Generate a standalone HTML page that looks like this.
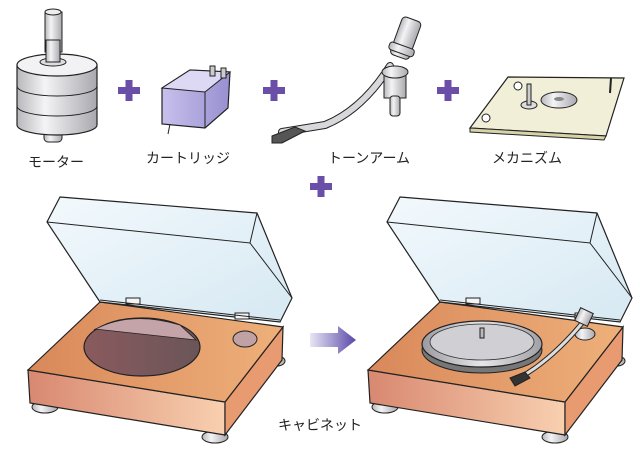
<!DOCTYPE html>
<html><head><meta charset="utf-8"><style>
html,body{margin:0;padding:0;background:#fff;}
svg{display:block}
text{font-family:"Liberation Sans","Noto Sans CJK JP",sans-serif;font-size:14px;fill:#222}
</style></head><body>
<svg width="640" height="456" viewBox="0 0 640 456" xmlns="http://www.w3.org/2000/svg">
<defs>
<linearGradient id="metal" x1="0" x2="1"><stop offset="0" stop-color="#b8b8bc"/><stop offset=".35" stop-color="#f4f4f6"/><stop offset="1" stop-color="#a8a8ae"/></linearGradient>
<linearGradient id="front" x1="0" x2="1"><stop offset="0" stop-color="#d88870"/><stop offset="1" stop-color="#f8d0b0"/></linearGradient>
<linearGradient id="topw" x1="0" x2="1"><stop offset="0" stop-color="#d9885a"/><stop offset="1" stop-color="#eeb07a"/></linearGradient>
<linearGradient id="hole" x1="0" x2="1"><stop offset="0" stop-color="#8a5a5e"/><stop offset="1" stop-color="#6a5558"/></linearGradient>
<linearGradient id="lid" x1="0" x2="1" y1="0" y2="1"><stop offset="0" stop-color="#eef7fc"/><stop offset="1" stop-color="#c9e1ee"/></linearGradient>
<linearGradient id="arrow" x1="0" x2="1"><stop offset="0" stop-color="#e8e6f4"/><stop offset="1" stop-color="#5a48a8"/></linearGradient>
<linearGradient id="cart" x1="0" x2="1"><stop offset="0" stop-color="#c8c0ec"/><stop offset="1" stop-color="#9890d0"/></linearGradient>
<linearGradient id="plat" x1="0" x2="1"><stop offset="0" stop-color="#9a9aa0"/><stop offset=".5" stop-color="#e6e6ea"/><stop offset="1" stop-color="#a0a0a6"/></linearGradient>
<g id="cab">
 <ellipse cx="45" cy="407" rx="13" ry="6" fill="url(#metal)" stroke="#222"/>
 <ellipse cx="215" cy="437" rx="13" ry="6" fill="url(#metal)" stroke="#222"/>
 <ellipse cx="277" cy="361" rx="8" ry="5" fill="url(#metal)" stroke="#222"/>
 <polygon points="28,370 225,402 225,435 30,403" fill="url(#front)" stroke="#222" stroke-width="1.2"/>
 <polygon points="225,402 283,327 282,360 225,435" fill="#e89a70" stroke="#222" stroke-width="1.2"/>
 <polygon points="28,370 100,302 283,327 225,402" fill="url(#topw)" stroke="#222" stroke-width="1.2"/>
 <polygon points="60,197 257,213 292,298 280,322 100,302 47,222" fill="url(#lid)" fill-opacity=".75" stroke="#222" stroke-width="1.2"/>
 <rect x="126" y="298" width="14" height="6" fill="#f4f4f4" stroke="#222"/>
 <rect x="235" y="313" width="14" height="6" fill="#f4f4f4" stroke="#222"/>
 <polyline points="47,222 250,243 257,213" fill="none" stroke="#222"/>
 <polyline points="250,243 292,298" fill="none" stroke="#222"/>
 <line x1="100" y1="300" x2="280" y2="320" stroke="#222"/>
</g>
</defs>

<!-- motor -->
<rect x="45" y="12" width="17" height="40" fill="url(#metal)" stroke="#222"/>
<ellipse cx="53" cy="12" rx="8" ry="3" fill="#eee" stroke="#222"/>
<rect x="44" y="128" width="18" height="14" rx="4" fill="url(#metal)" stroke="#222"/>
<path d="M17,65 L17,125 A40,10 0 0 0 97,125 L97,65" fill="url(#metal)" stroke="#222" stroke-width="1.2"/>
<path d="M17,86 A40,10 0 0 0 97,86 M17,106 A40,10 0 0 0 97,106" fill="none" stroke="#222"/>
<ellipse cx="57" cy="65" rx="40" ry="11" fill="#f2f2f4" stroke="#222" stroke-width="1.2"/>
<ellipse cx="53" cy="62" rx="13" ry="4" fill="#ddd" stroke="#222"/>
<rect x="46" y="40" width="14" height="22" fill="url(#metal)" stroke="#222"/>
<text x="28" y="167">モーター</text>

<!-- plus signs -->
<g fill="#6a4ea8">
<rect x="118" y="87" width="22" height="7"/><rect x="125.5" y="80" width="7" height="21"/>
<rect x="263" y="87" width="22" height="7"/><rect x="270.5" y="80" width="7" height="21"/>
<rect x="437" y="87" width="22" height="7"/><rect x="444.5" y="80" width="7" height="21"/>
<rect x="310" y="183" width="22" height="7"/><rect x="317.5" y="176" width="7" height="21"/>
</g>

<!-- cartridge -->
<polygon points="162,88 190,70 230,72 228,108 205,128 162,124" fill="url(#cart)" stroke="#222" stroke-width="1.2"/>
<polygon points="162,88 190,70 230,72 205,92" fill="#ddd8f4" stroke="#222"/>
<line x1="205" y1="92" x2="205" y2="128" stroke="#222"/>
<rect x="210" y="66" width="5" height="10" fill="#ccc" stroke="#222"/>
<rect x="221" y="68" width="5" height="10" fill="#ccc" stroke="#222"/>
<line x1="170" y1="124" x2="168" y2="134" stroke="#222"/>
<text x="146" y="163">カートリッジ</text>

<!-- tonearm -->
<path d="M390,66 Q362,110 325,125 L282,132" fill="none" stroke="#222" stroke-width="8" stroke-linecap="round"/>
<path d="M390,66 Q362,110 325,125 L282,132" fill="none" stroke="#d8d8dc" stroke-width="6" stroke-linecap="round"/>
<rect x="384" y="72" width="22" height="26" fill="url(#metal)" stroke="#222"/>
<rect x="390" y="96" width="10" height="20" rx="3" fill="url(#metal)" stroke="#222"/>
<ellipse cx="395" cy="72" rx="13" ry="6" fill="url(#metal)" stroke="#222"/>
<g transform="rotate(20 405 40)">
<rect x="395" y="18" width="20" height="40" rx="4" fill="url(#metal)" stroke="#222"/>
<rect x="392" y="46" width="26" height="8" rx="3" fill="url(#metal)" stroke="#222"/>
</g>
<polygon points="272,136 295,127 305,131 282,143 272,143" fill="#555" stroke="#222"/>
<text x="328" y="163">トーンアーム</text>

<!-- mechanism plate -->
<polygon points="470,128 508,77 624,78 606,136" fill="#f2efd8" stroke="#222" stroke-width="1.2"/>
<polygon points="470,128 606,136 604,140 470,132" fill="#d8d2a8" stroke="#222"/>
<ellipse cx="559" cy="100" rx="18" ry="8" fill="url(#metal)" stroke="#222"/>
<ellipse cx="559" cy="99" rx="5" ry="2" fill="#888"/>
<ellipse cx="529" cy="105" rx="8" ry="4" fill="#ddd" stroke="#222"/>
<rect x="527" y="84" width="4" height="21" fill="#ccc" stroke="#222"/>
<circle cx="486" cy="118" r="4" fill="#fff" stroke="#222"/>
<circle cx="518" cy="86" r="4" fill="#fff" stroke="#222"/>
<line x1="611" y1="78" x2="610" y2="93" stroke="#222" stroke-width="2"/>
<text x="492" y="163">メカニズム</text>

<!-- left cabinet -->
<use href="#cab"/>
<ellipse cx="142" cy="347" rx="58" ry="29" fill="url(#hole)" stroke="#222" stroke-width="1.2"/>
<path d="M94,330 Q130,310 180,325 L196,340 L95,329 Z" fill="#c4a4a8" stroke="#222" stroke-width=".8"/>
<ellipse cx="245" cy="339" rx="12" ry="8" fill="#c0a2a4" stroke="#222"/>

<!-- arrow -->
<polygon points="310,333 338,333 338,326 356,340 338,354 338,347 310,347" fill="url(#arrow)"/>

<!-- right cabinet -->
<g transform="translate(340,0)"><use href="#cab"/></g>
<ellipse cx="482" cy="350" rx="60" ry="23" fill="#777" stroke="#222"/>
<ellipse cx="482" cy="344" rx="60" ry="23" fill="url(#plat)" stroke="#222" stroke-width="1.2"/>
<ellipse cx="482" cy="342" rx="52" ry="18" fill="#cfcfd4" stroke="#333" stroke-width=".8"/>
<rect x="480" y="328" width="4" height="10" fill="#bbb" stroke="#222"/>
<ellipse cx="585" cy="334" rx="10" ry="6" fill="url(#metal)" stroke="#222"/>
<path d="M583,322 Q560,350 535,368 L520,378" fill="none" stroke="#222" stroke-width="5"/>
<path d="M583,322 Q560,350 535,368 L520,378" fill="none" stroke="#ddd" stroke-width="3"/>
<rect x="577" y="310" width="14" height="14" transform="rotate(25 584 317)" fill="url(#metal)" stroke="#222"/>
<polygon points="510,378 525,372 530,378 515,386" fill="#333" stroke="#222"/>
<text x="278" y="430">キャビネット</text>
</svg>
</body></html>
